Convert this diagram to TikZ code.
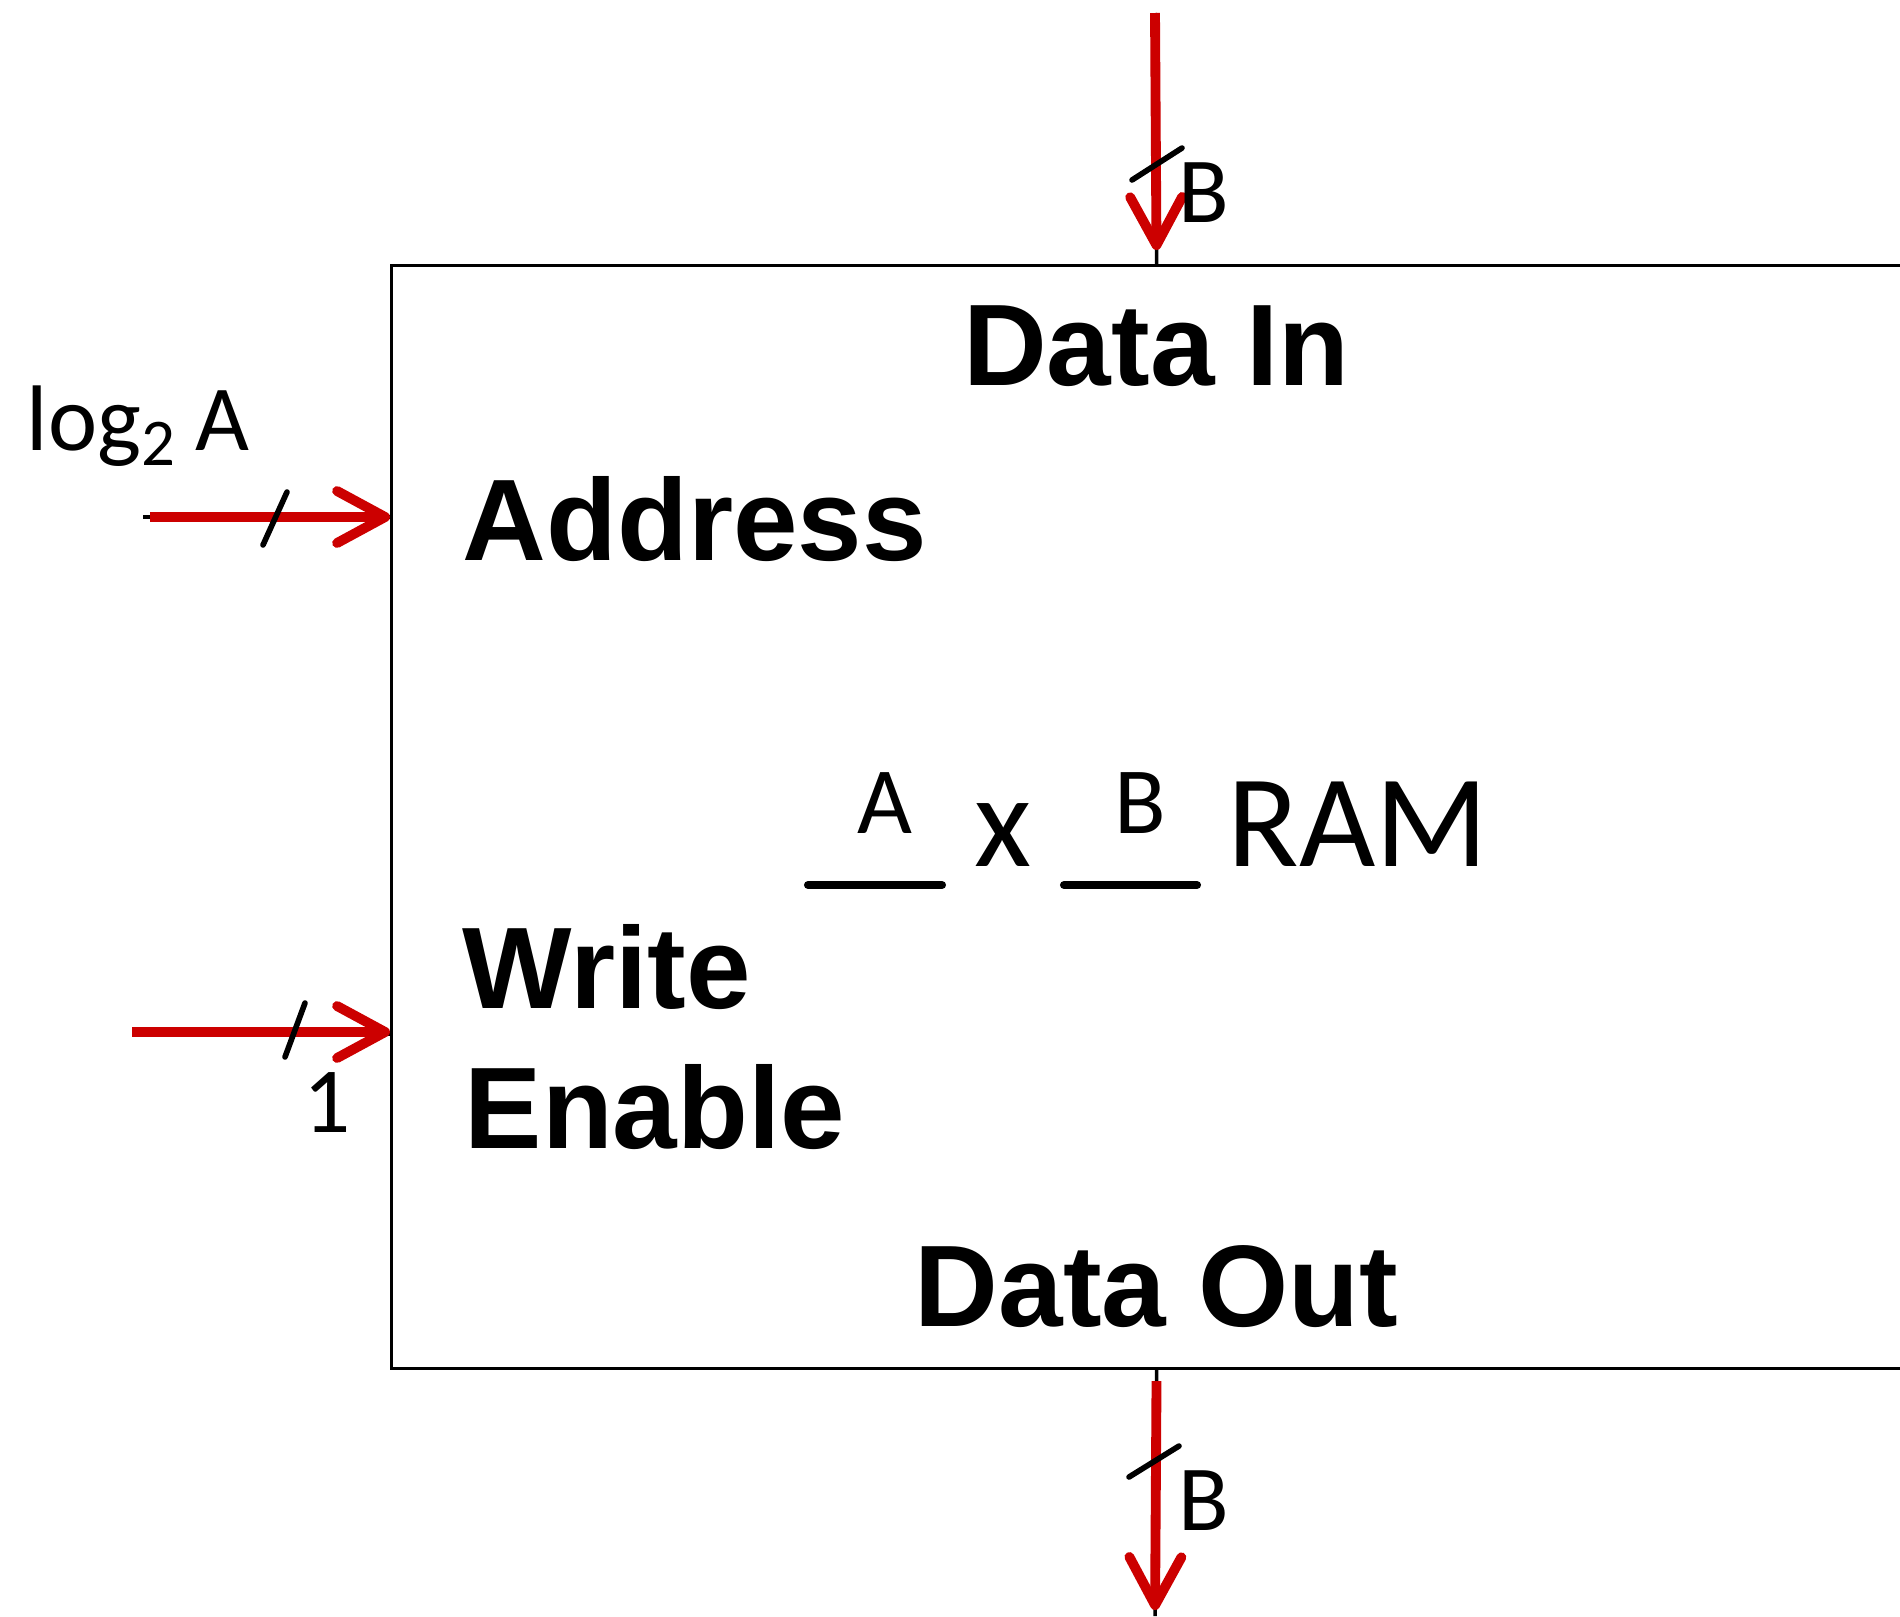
\documentclass[tikz,border=0pt]{standalone}
\usepackage{fontspec}
\setmainfont{Carlito}
\newfontfamily\portfont{Liberation Sans}
\definecolor{sigred}{RGB}{204, 0, 0}
\usetikzlibrary{arrows.meta, positioning, calc}
\tikzset{
    block/.style={
        rectangle, draw=black, line width=0.9pt,
        minimum width=15.3cm, minimum height=11.03cm, inner sep=0pt
    },
    port/.style={font=\portfont\bfseries\fontsize{33}{39}\selectfont, inner sep=0pt},
    lbl/.style={font=\fontsize{26.5}{30}\selectfont, inner sep=0pt, anchor=base west},
    sizelbl/.style={font=\fontsize{#1}{#1}\selectfont, inner sep=0pt, anchor=base},
    wire/.style={line width=1pt, draw=black},
    sig/.style={line width=2.8pt, draw=sigred, -{Straight Barb[length=4.8mm, width=5.2mm, round]}},
    buswidth/.style={line width=1.6pt, line cap=round},
    blank/.style={line width=2.3pt, line cap=round}
}
\begin{document}
\begin{tikzpicture}
    \useasboundingbox (0,0) rectangle (19,-16.16);
    \clip (0,0) rectangle (19,-16.16);

    % RAM block (runs off the right edge)
    \node[block, anchor=north west] (ram) at (3.9,-2.64) {};

    % Port names
    \node[port, anchor=base] (din) at ($(ram.north)+(0,-1.21)$) {Data In};
    \node[port, anchor=base] (dout) at ($(ram.south)+(0,0.44)$) {Data Out};
    \node[port, anchor=base west] (addr) at ($(ram.north west)+(0.72,-2.96)$) {Address};
    \node[port, anchor=base west] (we1) at ($(ram.north west)+(0.72,-7.44)$) {Write};
    \node[port, anchor=base west] (we2) at ($(ram.north west)+(0.74,-8.84)$) {Enable};

    % Size: __ x __ RAM
    \node[sizelbl=27] (szA) at (8.85,-8.33) {A};
    \node[sizelbl=37.5] (szx) at (10.03,-8.66) {x};
    \node[sizelbl=27] (szB) at (11.40,-8.33) {B};
    \node[sizelbl=37.5, anchor=base west] (ramlbl) at (12.27,-8.66) {RAM};
    \draw[blank] ($(szA.base)+(-0.77,-0.52)$) -- ++(1.34,0);
    \draw[blank] ($(szB.base)+(-0.76,-0.52)$) -- ++(1.33,0);

    % Free wire ends
    \coordinate (dinsrc) at (11.55,-0.13);
    \coordinate (doutdst) at (11.55,-16.16);
    \coordinate (addrsrc) at (1.43,-5.17);
    \coordinate (wesrc) at (1.32,-10.32);

    % Wires
    \draw[wire] (dinsrc) -- (ram.north);
    \draw[wire] (ram.south) -- (doutdst);
    \draw[wire] (addrsrc) -- (addrsrc -| ram.west);
    \draw[wire] ($(wesrc)+(0.08,-0.02)$) -- ($(wesrc -| ram.west)+(0,-0.02)$);

    % Signals
    \draw[sig, shorten >=1.4mm] (dinsrc) -- (ram.north);
    \draw[sig, shorten <=1.1mm, shorten >=0.6mm] (ram.south) -- (doutdst);
    \draw[sig, shorten <=0.7mm] (addrsrc) -- (addrsrc -| ram.west);
    \draw[sig] (wesrc) -- (wesrc -| ram.west);

    % Bus widths
    \draw[buswidth] (11.32,-1.80) -- (11.82,-1.48);
    \node[lbl] (dinw) at (11.78,-2.22) {B};
    \draw[buswidth] (11.29,-14.77) -- (11.79,-14.46);
    \node[lbl] (doutw) at (11.78,-15.30) {B};
    \draw[buswidth] (2.63,-5.45) -- (2.87,-4.92);
    \node[lbl] (addrw) at (0.26,-4.50) {log\raisebox{-0.17em}{\fontsize{19}{19}\selectfont 2} A};
    \draw[buswidth] (2.85,-10.57) -- (3.05,-10.03);
    \node[lbl] (wew) at (3.03,-11.32) {1};

\end{tikzpicture}
\end{document}
